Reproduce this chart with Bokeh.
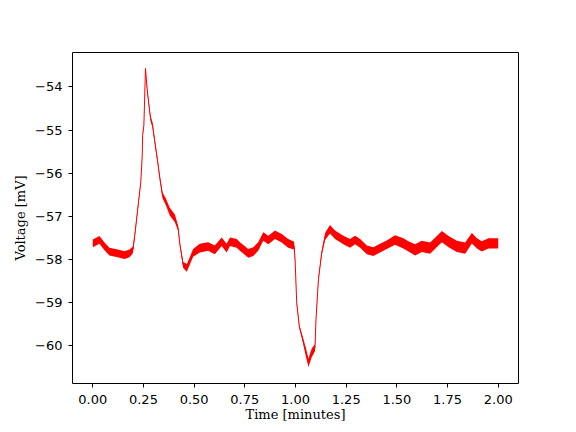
from bokeh.plotting import figure
from bokeh.models import FixedTicker, ColumnDataSource
from bokeh.embed import file_html
from bokeh.resources import INLINE

# Time [minutes]
t = [0.000, 0.033, 0.058, 0.082, 0.123, 0.157, 0.181, 0.198, 0.207, 0.224,
     0.237, 0.244, 0.246, 0.252, 0.255, 0.260, 0.268, 0.277, 0.285, 0.295,
     0.306, 0.318, 0.331, 0.344, 0.360, 0.380, 0.405, 0.421, 0.430, 0.446,
     0.464, 0.495, 0.528, 0.569, 0.602, 0.636, 0.660, 0.677, 0.710, 0.726,
     0.767, 0.792, 0.816, 0.841, 0.866, 0.899, 0.932, 0.964, 0.993, 0.998,
     1.006, 1.019, 1.036, 1.052, 1.064, 1.080, 1.096, 1.101, 1.113, 1.129,
     1.146, 1.170, 1.195, 1.236, 1.269, 1.294, 1.319, 1.352, 1.384, 1.417,
     1.450, 1.491, 1.532, 1.557, 1.590, 1.623, 1.664, 1.705, 1.722, 1.755,
     1.796, 1.837, 1.870, 1.895, 1.919, 1.952, 1.993, 2.000]
# Voltage [mV], centre of the trace
v = [-57.63, -57.55, -57.70, -57.82, -57.86, -57.90, -57.86, -57.78, -57.45, -56.74,
     -56.20, -55.58, -55.12, -54.89, -54.42, -53.57, -54.04, -54.42, -54.73, -54.89,
     -55.27, -55.66, -56.12, -56.51, -56.66, -56.89, -57.05, -57.28, -57.66, -58.13,
     -58.20, -57.85, -57.74, -57.70, -57.78, -57.59, -57.74, -57.59, -57.63, -57.70,
     -57.86, -57.82, -57.70, -57.47, -57.55, -57.43, -57.51, -57.63, -57.68, -58.01,
     -59.01, -59.56, -59.86, -60.17, -60.40, -60.17, -60.05, -59.40, -58.47, -57.86,
     -57.47, -57.30, -57.43, -57.55, -57.63, -57.55, -57.63, -57.78, -57.82, -57.74,
     -57.66, -57.55, -57.63, -57.70, -57.78, -57.70, -57.74, -57.55, -57.47, -57.59,
     -57.70, -57.74, -57.51, -57.63, -57.70, -57.63, -57.63, -57.63]
# half thickness of the noise band [mV]
h = [0.09, 0.09, 0.09, 0.09, 0.09, 0.09, 0.09, 0.08, 0.05, 0.04,
     0.03, 0.02, 0.02, 0.03, 0.03, 0.02, 0.04, 0.05, 0.06, 0.06,
     0.05, 0.05, 0.05, 0.07, 0.08, 0.09, 0.09, 0.06, 0.04, 0.07,
     0.09, 0.09, 0.10, 0.10, 0.10, 0.10, 0.10, 0.10, 0.10, 0.10,
     0.10, 0.10, 0.10, 0.10, 0.10, 0.10, 0.10, 0.10, 0.09, 0.04,
     0.03, 0.04, 0.06, 0.10, 0.10, 0.10, 0.08, 0.03, 0.03, 0.05,
     0.08, 0.10, 0.10, 0.10, 0.10, 0.10, 0.10, 0.10, 0.10, 0.10,
     0.10, 0.11, 0.12, 0.12, 0.13, 0.13, 0.13, 0.13, 0.13, 0.13,
     0.13, 0.13, 0.12, 0.12, 0.12, 0.12, 0.12, 0.12]

x_ticks = [0.0, 0.25, 0.5, 0.75, 1.0, 1.25, 1.5, 1.75, 2.0]
x_labels = ["0.00", "0.25", "0.50", "0.75", "1.00", "1.25", "1.50", "1.75", "2.00"]
y_ticks = [-60, -59, -58, -57, -56, -55, -54]
y_labels = ["\u221260", "\u221259", "\u221258", "\u221257", "\u221256", "\u221255", "\u221254"]

lo = [a - b for a, b in zip(v, h)]
hi = [a + b for a, b in zip(v, h)]
src = ColumnDataSource(dict(t=t, v=v, lo=lo, hi=hi))

p = figure(width=568, height=424, frame_width=446, frame_height=331,
           x_range=(-0.1, 2.1), y_range=(-60.88, -53.2),
           output_backend="svg", toolbar_location=None,
           min_border_left=72, min_border_right=50, min_border_top=52, min_border_bottom=41)
p.background_fill_color = "white"
p.border_fill_color = "white"
p.outline_line_color = "black"
p.outline_line_width = 1
p.grid.visible = False

p.varea(x="t", y1="lo", y2="hi", source=src, fill_color="red", fill_alpha=1.0)
p.line(x="t", y="v", source=src, line_color="red", line_width=1)

p.xaxis.ticker = FixedTicker(ticks=x_ticks)
p.xaxis.major_label_overrides = {k: s for k, s in zip(x_ticks, x_labels)}
p.yaxis.ticker = FixedTicker(ticks=y_ticks)
p.yaxis.major_label_overrides = {k: s for k, s in zip(y_ticks, y_labels)}

for ax in (p.xaxis[0], p.yaxis[0]):
    ax.axis_line_color = None
    ax.major_tick_in = 0
    ax.major_tick_out = 4
    ax.major_tick_line_color = "black"
    ax.minor_tick_line_color = None
    ax.major_label_text_font = "DejaVu Sans"
    ax.major_label_text_font_size = "13px"
    ax.major_label_text_color = "black"
    ax.axis_label_text_font = "DejaVu Serif"
    ax.axis_label_text_font_size = "13px"
    ax.axis_label_text_font_style = "normal"
    ax.axis_label_text_color = "black"

p.xaxis.axis_label = "Time [minutes]"
p.yaxis.axis_label = "Voltage [mV]"
p.xaxis.major_label_standoff = 7
p.yaxis.major_label_standoff = 6
p.xaxis.axis_label_standoff = 0
p.yaxis.axis_label_standoff = 4

open("out.html", "w").write(file_html(p, INLINE))
